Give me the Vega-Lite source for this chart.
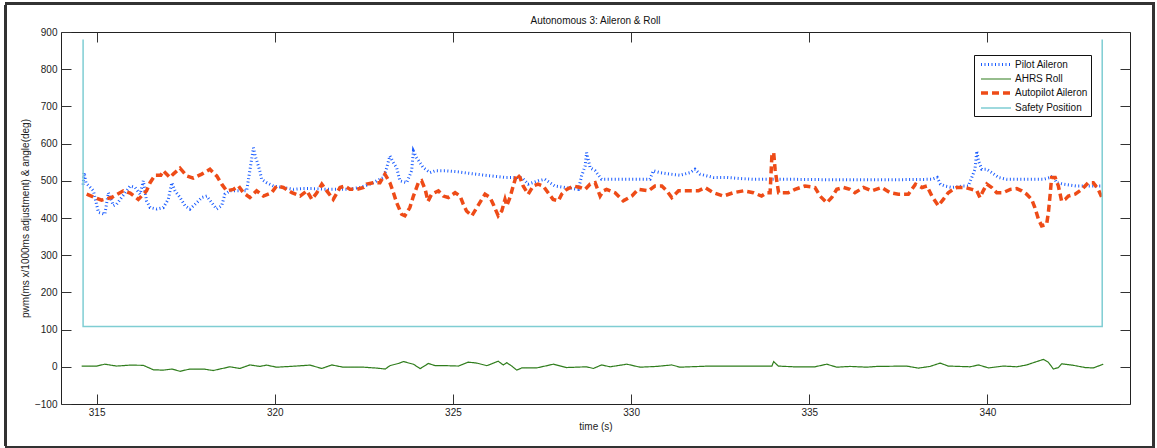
{
  "$schema": "https://vega.github.io/schema/vega-lite/v6.json",
  "width": 1069,
  "height": 372,
  "autosize": {"type": "none"},
  "padding": {"left": 61, "top": 32, "right": 27, "bottom": 44},
  "background": "white",
  "title": {"text": "Autonomous 3: Aileron & Roll", "fontSize": 10, "fontWeight": "normal", "baseline": "alphabetic", "offset": -31, "color": "#111"},
  "config": {
    "font": "Liberation Sans",
    "view": {"stroke": "#222", "strokeWidth": 1},
    "axis": {"grid": false, "domain": false, "tickColor": "#333", "labelColor": "#222", "titleColor": "#222", "labelFontSize": 10, "titleFontSize": 10, "titleFontWeight": "normal", "tickSize": -10},
    "legend": {"labelFontSize": 10, "labelColor": "#111"}
  },
  "data": {"values": [
    {"s":"Pilot Aileron","t":314.62,"v":490},{"s":"Pilot Aileron","t":314.65,"v":522},{"s":"Pilot Aileron","t":314.7,"v":495},{"s":"Pilot Aileron","t":314.91,"v":473},{"s":"Pilot Aileron","t":315.05,"v":415},{"s":"Pilot Aileron","t":315.23,"v":410},{"s":"Pilot Aileron","t":315.33,"v":468},{"s":"Pilot Aileron","t":315.47,"v":433},{"s":"Pilot Aileron","t":315.56,"v":437},{"s":"Pilot Aileron","t":315.7,"v":455},{"s":"Pilot Aileron","t":315.94,"v":486},{"s":"Pilot Aileron","t":316.08,"v":482},{"s":"Pilot Aileron","t":316.22,"v":464},{"s":"Pilot Aileron","t":316.31,"v":500},{"s":"Pilot Aileron","t":316.4,"v":446},{"s":"Pilot Aileron","t":316.5,"v":428},{"s":"Pilot Aileron","t":316.69,"v":424},{"s":"Pilot Aileron","t":316.87,"v":428},{"s":"Pilot Aileron","t":317.01,"v":450},{"s":"Pilot Aileron","t":317.11,"v":495},{"s":"Pilot Aileron","t":317.2,"v":473},{"s":"Pilot Aileron","t":317.34,"v":455},{"s":"Pilot Aileron","t":317.48,"v":433},{"s":"Pilot Aileron","t":317.62,"v":424},{"s":"Pilot Aileron","t":317.81,"v":441},{"s":"Pilot Aileron","t":317.95,"v":455},{"s":"Pilot Aileron","t":318.09,"v":459},{"s":"Pilot Aileron","t":318.23,"v":441},{"s":"Pilot Aileron","t":318.37,"v":424},{"s":"Pilot Aileron","t":318.51,"v":433},{"s":"Pilot Aileron","t":318.6,"v":464},{"s":"Pilot Aileron","t":318.74,"v":473},{"s":"Pilot Aileron","t":318.98,"v":473},{"s":"Pilot Aileron","t":319.21,"v":473},{"s":"Pilot Aileron","t":319.35,"v":558},{"s":"Pilot Aileron","t":319.4,"v":589},{"s":"Pilot Aileron","t":319.45,"v":567},{"s":"Pilot Aileron","t":319.54,"v":540},{"s":"Pilot Aileron","t":319.59,"v":522},{"s":"Pilot Aileron","t":319.63,"v":504},{"s":"Pilot Aileron","t":319.77,"v":495},{"s":"Pilot Aileron","t":319.96,"v":486},{"s":"Pilot Aileron","t":320.24,"v":482},{"s":"Pilot Aileron","t":320.52,"v":477},{"s":"Pilot Aileron","t":320.8,"v":479},{"s":"Pilot Aileron","t":321.08,"v":479},{"s":"Pilot Aileron","t":321.46,"v":477},{"s":"Pilot Aileron","t":321.74,"v":477},{"s":"Pilot Aileron","t":322.02,"v":477},{"s":"Pilot Aileron","t":322.39,"v":482},{"s":"Pilot Aileron","t":322.67,"v":491},{"s":"Pilot Aileron","t":322.86,"v":500},{"s":"Pilot Aileron","t":323.05,"v":509},{"s":"Pilot Aileron","t":323.14,"v":535},{"s":"Pilot Aileron","t":323.23,"v":567},{"s":"Pilot Aileron","t":323.33,"v":549},{"s":"Pilot Aileron","t":323.42,"v":535},{"s":"Pilot Aileron","t":323.51,"v":500},{"s":"Pilot Aileron","t":323.7,"v":495},{"s":"Pilot Aileron","t":323.84,"v":527},{"s":"Pilot Aileron","t":323.89,"v":580},{"s":"Pilot Aileron","t":323.98,"v":562},{"s":"Pilot Aileron","t":324.17,"v":535},{"s":"Pilot Aileron","t":324.36,"v":522},{"s":"Pilot Aileron","t":324.5,"v":527},{"s":"Pilot Aileron","t":324.78,"v":527},{"s":"Pilot Aileron","t":325.15,"v":524},{"s":"Pilot Aileron","t":325.62,"v":518},{"s":"Pilot Aileron","t":326.09,"v":513},{"s":"Pilot Aileron","t":326.46,"v":509},{"s":"Pilot Aileron","t":326.93,"v":509},{"s":"Pilot Aileron","t":327.11,"v":491},{"s":"Pilot Aileron","t":327.39,"v":500},{"s":"Pilot Aileron","t":327.58,"v":504},{"s":"Pilot Aileron","t":327.86,"v":486},{"s":"Pilot Aileron","t":328.15,"v":482},{"s":"Pilot Aileron","t":328.52,"v":477},{"s":"Pilot Aileron","t":328.61,"v":513},{"s":"Pilot Aileron","t":328.71,"v":540},{"s":"Pilot Aileron","t":328.75,"v":576},{"s":"Pilot Aileron","t":328.85,"v":535},{"s":"Pilot Aileron","t":328.99,"v":527},{"s":"Pilot Aileron","t":329.17,"v":504},{"s":"Pilot Aileron","t":329.6,"v":504},{"s":"Pilot Aileron","t":330.06,"v":504},{"s":"Pilot Aileron","t":330.53,"v":504},{"s":"Pilot Aileron","t":330.62,"v":527},{"s":"Pilot Aileron","t":330.81,"v":522},{"s":"Pilot Aileron","t":331.09,"v":518},{"s":"Pilot Aileron","t":331.37,"v":515},{"s":"Pilot Aileron","t":331.65,"v":522},{"s":"Pilot Aileron","t":331.79,"v":531},{"s":"Pilot Aileron","t":331.93,"v":518},{"s":"Pilot Aileron","t":332.31,"v":509},{"s":"Pilot Aileron","t":332.68,"v":509},{"s":"Pilot Aileron","t":333.06,"v":506},{"s":"Pilot Aileron","t":333.43,"v":504},{"s":"Pilot Aileron","t":333.76,"v":504},{"s":"Pilot Aileron","t":334.5,"v":504},{"s":"Pilot Aileron","t":335.5,"v":503},{"s":"Pilot Aileron","t":336.5,"v":503},{"s":"Pilot Aileron","t":337.5,"v":503},{"s":"Pilot Aileron","t":338.44,"v":504},{"s":"Pilot Aileron","t":338.59,"v":509},{"s":"Pilot Aileron","t":338.68,"v":491},{"s":"Pilot Aileron","t":338.81,"v":486},{"s":"Pilot Aileron","t":339.0,"v":482},{"s":"Pilot Aileron","t":339.32,"v":486},{"s":"Pilot Aileron","t":339.46,"v":486},{"s":"Pilot Aileron","t":339.56,"v":509},{"s":"Pilot Aileron","t":339.65,"v":531},{"s":"Pilot Aileron","t":339.7,"v":580},{"s":"Pilot Aileron","t":339.75,"v":553},{"s":"Pilot Aileron","t":339.84,"v":531},{"s":"Pilot Aileron","t":339.98,"v":531},{"s":"Pilot Aileron","t":340.12,"v":522},{"s":"Pilot Aileron","t":340.31,"v":509},{"s":"Pilot Aileron","t":340.54,"v":504},{"s":"Pilot Aileron","t":340.82,"v":504},{"s":"Pilot Aileron","t":341.2,"v":504},{"s":"Pilot Aileron","t":341.57,"v":504},{"s":"Pilot Aileron","t":341.76,"v":509},{"s":"Pilot Aileron","t":341.85,"v":513},{"s":"Pilot Aileron","t":341.94,"v":495},{"s":"Pilot Aileron","t":342.13,"v":491},{"s":"Pilot Aileron","t":342.5,"v":486},{"s":"Pilot Aileron","t":342.88,"v":486},{"s":"Pilot Aileron","t":343.21,"v":486},
    {"s":"AHRS Roll","t":314.58,"v":2},{"s":"AHRS Roll","t":315.0,"v":2},{"s":"AHRS Roll","t":315.23,"v":7},{"s":"AHRS Roll","t":315.56,"v":2},{"s":"AHRS Roll","t":315.94,"v":4.5},{"s":"AHRS Roll","t":316.31,"v":4},{"s":"AHRS Roll","t":316.59,"v":-8},{"s":"AHRS Roll","t":316.87,"v":-9},{"s":"AHRS Roll","t":317.11,"v":-6},{"s":"AHRS Roll","t":317.34,"v":-12},{"s":"AHRS Roll","t":317.62,"v":-6},{"s":"AHRS Roll","t":318.0,"v":-6},{"s":"AHRS Roll","t":318.27,"v":-10},{"s":"AHRS Roll","t":318.46,"v":-6},{"s":"AHRS Roll","t":318.74,"v":0},{"s":"AHRS Roll","t":319.02,"v":-4.5},{"s":"AHRS Roll","t":319.3,"v":5},{"s":"AHRS Roll","t":319.58,"v":1},{"s":"AHRS Roll","t":319.77,"v":4.5},{"s":"AHRS Roll","t":320.05,"v":-1},{"s":"AHRS Roll","t":320.43,"v":1},{"s":"AHRS Roll","t":320.99,"v":4.5},{"s":"AHRS Roll","t":321.32,"v":-4.5},{"s":"AHRS Roll","t":321.6,"v":5},{"s":"AHRS Roll","t":321.92,"v":-1},{"s":"AHRS Roll","t":322.49,"v":-1},{"s":"AHRS Roll","t":322.86,"v":-3.5},{"s":"AHRS Roll","t":323.1,"v":-6},{"s":"AHRS Roll","t":323.23,"v":3},{"s":"AHRS Roll","t":323.47,"v":9},{"s":"AHRS Roll","t":323.61,"v":14},{"s":"AHRS Roll","t":323.89,"v":7},{"s":"AHRS Roll","t":324.08,"v":-5},{"s":"AHRS Roll","t":324.31,"v":9},{"s":"AHRS Roll","t":324.5,"v":3},{"s":"AHRS Roll","t":324.83,"v":3},{"s":"AHRS Roll","t":325.15,"v":2},{"s":"AHRS Roll","t":325.43,"v":12.5},{"s":"AHRS Roll","t":325.67,"v":10},{"s":"AHRS Roll","t":325.95,"v":3},{"s":"AHRS Roll","t":326.27,"v":15},{"s":"AHRS Roll","t":326.41,"v":5},{"s":"AHRS Roll","t":326.51,"v":11},{"s":"AHRS Roll","t":326.65,"v":2},{"s":"AHRS Roll","t":326.79,"v":-9},{"s":"AHRS Roll","t":326.93,"v":-3},{"s":"AHRS Roll","t":327.35,"v":-3},{"s":"AHRS Roll","t":327.82,"v":7},{"s":"AHRS Roll","t":328.19,"v":-2},{"s":"AHRS Roll","t":328.75,"v":0},{"s":"AHRS Roll","t":328.94,"v":-4.5},{"s":"AHRS Roll","t":329.17,"v":5},{"s":"AHRS Roll","t":329.41,"v":0},{"s":"AHRS Roll","t":329.88,"v":7},{"s":"AHRS Roll","t":330.25,"v":-1},{"s":"AHRS Roll","t":330.72,"v":1},{"s":"AHRS Roll","t":331.14,"v":5},{"s":"AHRS Roll","t":331.37,"v":-1},{"s":"AHRS Roll","t":332.21,"v":2},{"s":"AHRS Roll","t":333.62,"v":2},{"s":"AHRS Roll","t":333.95,"v":2},{"s":"AHRS Roll","t":334.0,"v":14},{"s":"AHRS Roll","t":334.13,"v":2},{"s":"AHRS Roll","t":334.55,"v":0},{"s":"AHRS Roll","t":335.16,"v":0},{"s":"AHRS Roll","t":335.49,"v":7},{"s":"AHRS Roll","t":335.77,"v":-1},{"s":"AHRS Roll","t":336.14,"v":1},{"s":"AHRS Roll","t":336.61,"v":-1},{"s":"AHRS Roll","t":336.89,"v":1},{"s":"AHRS Roll","t":337.73,"v":2},{"s":"AHRS Roll","t":338.06,"v":-3.5},{"s":"AHRS Roll","t":338.39,"v":1},{"s":"AHRS Roll","t":338.67,"v":10},{"s":"AHRS Roll","t":338.9,"v":2},{"s":"AHRS Roll","t":339.51,"v":0},{"s":"AHRS Roll","t":339.75,"v":5},{"s":"AHRS Roll","t":340.03,"v":-3},{"s":"AHRS Roll","t":340.45,"v":2},{"s":"AHRS Roll","t":340.82,"v":0},{"s":"AHRS Roll","t":341.1,"v":5},{"s":"AHRS Roll","t":341.57,"v":20},{"s":"AHRS Roll","t":341.71,"v":12},{"s":"AHRS Roll","t":341.85,"v":-6},{"s":"AHRS Roll","t":341.99,"v":-2},{"s":"AHRS Roll","t":342.08,"v":8},{"s":"AHRS Roll","t":342.41,"v":4},{"s":"AHRS Roll","t":342.74,"v":-2},{"s":"AHRS Roll","t":342.97,"v":-3},{"s":"AHRS Roll","t":343.25,"v":7},
    {"s":"Autopilot Aileron","t":314.72,"v":464},{"s":"Autopilot Aileron","t":315.14,"v":448},{"s":"Autopilot Aileron","t":315.42,"v":455},{"s":"Autopilot Aileron","t":315.75,"v":473},{"s":"Autopilot Aileron","t":315.94,"v":467},{"s":"Autopilot Aileron","t":316.17,"v":450},{"s":"Autopilot Aileron","t":316.4,"v":473},{"s":"Autopilot Aileron","t":316.5,"v":495},{"s":"Autopilot Aileron","t":316.64,"v":515},{"s":"Autopilot Aileron","t":316.8,"v":515},{"s":"Autopilot Aileron","t":316.87,"v":527},{"s":"Autopilot Aileron","t":317.06,"v":509},{"s":"Autopilot Aileron","t":317.15,"v":518},{"s":"Autopilot Aileron","t":317.34,"v":534},{"s":"Autopilot Aileron","t":317.53,"v":513},{"s":"Autopilot Aileron","t":317.71,"v":507},{"s":"Autopilot Aileron","t":317.95,"v":518},{"s":"Autopilot Aileron","t":318.18,"v":531},{"s":"Autopilot Aileron","t":318.37,"v":513},{"s":"Autopilot Aileron","t":318.51,"v":491},{"s":"Autopilot Aileron","t":318.65,"v":473},{"s":"Autopilot Aileron","t":318.84,"v":477},{"s":"Autopilot Aileron","t":318.98,"v":486},{"s":"Autopilot Aileron","t":319.12,"v":468},{"s":"Autopilot Aileron","t":319.3,"v":455},{"s":"Autopilot Aileron","t":319.49,"v":473},{"s":"Autopilot Aileron","t":319.68,"v":459},{"s":"Autopilot Aileron","t":319.91,"v":468},{"s":"Autopilot Aileron","t":320.05,"v":486},{"s":"Autopilot Aileron","t":320.24,"v":482},{"s":"Autopilot Aileron","t":320.48,"v":468},{"s":"Autopilot Aileron","t":320.71,"v":459},{"s":"Autopilot Aileron","t":320.9,"v":473},{"s":"Autopilot Aileron","t":321.04,"v":450},{"s":"Autopilot Aileron","t":321.18,"v":468},{"s":"Autopilot Aileron","t":321.32,"v":491},{"s":"Autopilot Aileron","t":321.46,"v":473},{"s":"Autopilot Aileron","t":321.64,"v":450},{"s":"Autopilot Aileron","t":321.83,"v":482},{"s":"Autopilot Aileron","t":321.97,"v":486},{"s":"Autopilot Aileron","t":322.11,"v":477},{"s":"Autopilot Aileron","t":322.3,"v":477},{"s":"Autopilot Aileron","t":322.49,"v":482},{"s":"Autopilot Aileron","t":322.58,"v":491},{"s":"Autopilot Aileron","t":322.77,"v":495},{"s":"Autopilot Aileron","t":322.95,"v":495},{"s":"Autopilot Aileron","t":323.09,"v":518},{"s":"Autopilot Aileron","t":323.23,"v":495},{"s":"Autopilot Aileron","t":323.33,"v":468},{"s":"Autopilot Aileron","t":323.42,"v":441},{"s":"Autopilot Aileron","t":323.56,"v":410},{"s":"Autopilot Aileron","t":323.65,"v":406},{"s":"Autopilot Aileron","t":323.79,"v":428},{"s":"Autopilot Aileron","t":323.89,"v":459},{"s":"Autopilot Aileron","t":324.03,"v":495},{"s":"Autopilot Aileron","t":324.12,"v":500},{"s":"Autopilot Aileron","t":324.22,"v":477},{"s":"Autopilot Aileron","t":324.3,"v":445},{"s":"Autopilot Aileron","t":324.4,"v":464},{"s":"Autopilot Aileron","t":324.59,"v":473},{"s":"Autopilot Aileron","t":324.73,"v":459},{"s":"Autopilot Aileron","t":324.87,"v":455},{"s":"Autopilot Aileron","t":325.06,"v":468},{"s":"Autopilot Aileron","t":325.2,"v":459},{"s":"Autopilot Aileron","t":325.29,"v":437},{"s":"Autopilot Aileron","t":325.38,"v":419},{"s":"Autopilot Aileron","t":325.53,"v":406},{"s":"Autopilot Aileron","t":325.67,"v":428},{"s":"Autopilot Aileron","t":325.81,"v":450},{"s":"Autopilot Aileron","t":325.9,"v":464},{"s":"Autopilot Aileron","t":326.04,"v":455},{"s":"Autopilot Aileron","t":326.13,"v":437},{"s":"Autopilot Aileron","t":326.27,"v":406},{"s":"Autopilot Aileron","t":326.37,"v":419},{"s":"Autopilot Aileron","t":326.46,"v":450},{"s":"Autopilot Aileron","t":326.51,"v":433},{"s":"Autopilot Aileron","t":326.6,"v":455},{"s":"Autopilot Aileron","t":326.69,"v":486},{"s":"Autopilot Aileron","t":326.79,"v":518},{"s":"Autopilot Aileron","t":326.88,"v":509},{"s":"Autopilot Aileron","t":326.97,"v":486},{"s":"Autopilot Aileron","t":327.11,"v":464},{"s":"Autopilot Aileron","t":327.25,"v":486},{"s":"Autopilot Aileron","t":327.39,"v":491},{"s":"Autopilot Aileron","t":327.53,"v":486},{"s":"Autopilot Aileron","t":327.67,"v":468},{"s":"Autopilot Aileron","t":327.81,"v":450},{"s":"Autopilot Aileron","t":327.96,"v":446},{"s":"Autopilot Aileron","t":328.05,"v":464},{"s":"Autopilot Aileron","t":328.19,"v":477},{"s":"Autopilot Aileron","t":328.38,"v":486},{"s":"Autopilot Aileron","t":328.57,"v":482},{"s":"Autopilot Aileron","t":328.71,"v":477},{"s":"Autopilot Aileron","t":328.85,"v":491},{"s":"Autopilot Aileron","t":328.99,"v":495},{"s":"Autopilot Aileron","t":329.13,"v":459},{"s":"Autopilot Aileron","t":329.22,"v":473},{"s":"Autopilot Aileron","t":329.31,"v":477},{"s":"Autopilot Aileron","t":329.55,"v":468},{"s":"Autopilot Aileron","t":329.78,"v":446},{"s":"Autopilot Aileron","t":330.02,"v":459},{"s":"Autopilot Aileron","t":330.2,"v":477},{"s":"Autopilot Aileron","t":330.48,"v":473},{"s":"Autopilot Aileron","t":330.67,"v":486},{"s":"Autopilot Aileron","t":330.86,"v":486},{"s":"Autopilot Aileron","t":331.0,"v":473},{"s":"Autopilot Aileron","t":331.14,"v":455},{"s":"Autopilot Aileron","t":331.33,"v":473},{"s":"Autopilot Aileron","t":331.61,"v":473},{"s":"Autopilot Aileron","t":331.89,"v":473},{"s":"Autopilot Aileron","t":332.07,"v":482},{"s":"Autopilot Aileron","t":332.31,"v":468},{"s":"Autopilot Aileron","t":332.59,"v":459},{"s":"Autopilot Aileron","t":332.87,"v":468},{"s":"Autopilot Aileron","t":333.15,"v":473},{"s":"Autopilot Aileron","t":333.43,"v":468},{"s":"Autopilot Aileron","t":333.66,"v":459},{"s":"Autopilot Aileron","t":333.8,"v":468},{"s":"Autopilot Aileron","t":333.9,"v":468},{"s":"Autopilot Aileron","t":333.95,"v":567},{"s":"Autopilot Aileron","t":334.0,"v":576},{"s":"Autopilot Aileron","t":334.04,"v":531},{"s":"Autopilot Aileron","t":334.08,"v":504},{"s":"Autopilot Aileron","t":334.14,"v":468},{"s":"Autopilot Aileron","t":334.41,"v":468},{"s":"Autopilot Aileron","t":334.6,"v":477},{"s":"Autopilot Aileron","t":334.88,"v":486},{"s":"Autopilot Aileron","t":335.16,"v":482},{"s":"Autopilot Aileron","t":335.3,"v":459},{"s":"Autopilot Aileron","t":335.49,"v":441},{"s":"Autopilot Aileron","t":335.63,"v":455},{"s":"Autopilot Aileron","t":335.77,"v":477},{"s":"Autopilot Aileron","t":335.96,"v":482},{"s":"Autopilot Aileron","t":336.14,"v":477},{"s":"Autopilot Aileron","t":336.28,"v":468},{"s":"Autopilot Aileron","t":336.52,"v":482},{"s":"Autopilot Aileron","t":336.75,"v":473},{"s":"Autopilot Aileron","t":337.03,"v":482},{"s":"Autopilot Aileron","t":337.27,"v":468},{"s":"Autopilot Aileron","t":337.5,"v":464},{"s":"Autopilot Aileron","t":337.78,"v":464},{"s":"Autopilot Aileron","t":337.98,"v":491},{"s":"Autopilot Aileron","t":338.16,"v":482},{"s":"Autopilot Aileron","t":338.3,"v":486},{"s":"Autopilot Aileron","t":338.44,"v":459},{"s":"Autopilot Aileron","t":338.62,"v":433},{"s":"Autopilot Aileron","t":338.76,"v":450},{"s":"Autopilot Aileron","t":338.9,"v":468},{"s":"Autopilot Aileron","t":339.04,"v":477},{"s":"Autopilot Aileron","t":339.14,"v":482},{"s":"Autopilot Aileron","t":339.38,"v":482},{"s":"Autopilot Aileron","t":339.56,"v":477},{"s":"Autopilot Aileron","t":339.7,"v":473},{"s":"Autopilot Aileron","t":339.79,"v":455},{"s":"Autopilot Aileron","t":339.88,"v":473},{"s":"Autopilot Aileron","t":339.98,"v":491},{"s":"Autopilot Aileron","t":340.12,"v":482},{"s":"Autopilot Aileron","t":340.26,"v":468},{"s":"Autopilot Aileron","t":340.44,"v":468},{"s":"Autopilot Aileron","t":340.64,"v":477},{"s":"Autopilot Aileron","t":340.82,"v":479},{"s":"Autopilot Aileron","t":340.96,"v":473},{"s":"Autopilot Aileron","t":341.1,"v":464},{"s":"Autopilot Aileron","t":341.24,"v":450},{"s":"Autopilot Aileron","t":341.33,"v":428},{"s":"Autopilot Aileron","t":341.43,"v":397},{"s":"Autopilot Aileron","t":341.52,"v":379},{"s":"Autopilot Aileron","t":341.66,"v":383},{"s":"Autopilot Aileron","t":341.71,"v":415},{"s":"Autopilot Aileron","t":341.76,"v":464},{"s":"Autopilot Aileron","t":341.8,"v":509},{"s":"Autopilot Aileron","t":341.9,"v":509},{"s":"Autopilot Aileron","t":341.99,"v":486},{"s":"Autopilot Aileron","t":342.04,"v":464},{"s":"Autopilot Aileron","t":342.08,"v":446},{"s":"Autopilot Aileron","t":342.18,"v":450},{"s":"Autopilot Aileron","t":342.27,"v":459},{"s":"Autopilot Aileron","t":342.46,"v":464},{"s":"Autopilot Aileron","t":342.65,"v":477},{"s":"Autopilot Aileron","t":342.83,"v":495},{"s":"Autopilot Aileron","t":342.97,"v":495},{"s":"Autopilot Aileron","t":343.11,"v":477},{"s":"Autopilot Aileron","t":343.21,"v":455},
    {"s":"Safety Position","t":314.62,"v":880,"k":1},{"s":"Safety Position","t":314.62,"v":108,"k":2},{"s":"Safety Position","t":343.22,"v":108,"k":3},{"s":"Safety Position","t":343.22,"v":880,"k":4}
  ]},
  "layer": [
    {
      "mark": {"type": "rect", "fill": null, "fillOpacity": 0, "stroke": "#333", "strokeWidth": 2, "clip": false},
      "encoding": {
        "x": {"datum": 312.456, "type": "quantitative", "axis": null},
        "x2": {"datum": 344.65},
        "y": {"datum": 976.5, "type": "quantitative", "axis": null},
        "y2": {"datum": -216.5}
      }
    },
    {
      "encoding": {
        "x": {"field": "t", "type": "quantitative", "scale": {"domain": [314, 344], "nice": false, "zero": false},
              "axis": {"orient": "bottom", "values": [315, 320, 325, 330, 335, 340], "title": "time (s)", "labelPadding": 13, "titlePadding": 4}},
        "y": {"field": "v", "type": "quantitative", "scale": {"domain": [-100, 900], "nice": false, "zero": false},
              "axis": {"orient": "left", "values": [-100, 0, 100, 200, 300, 400, 500, 600, 700, 800, 900], "title": "pwm(ms x/1000ms adjustment) & angle(deg)", "labelPadding": 14, "titlePadding": 4}},
        "color": {"field": "s", "type": "nominal", "title": null,
                  "scale": {"domain": ["Pilot Aileron", "AHRS Roll", "Autopilot Aileron", "Safety Position"], "range": ["#1a5cff", "#2f7d1c", "#ee4b17", "#7fcdd3"]},
                  "legend": {"orient": "none", "legendX": 913, "legendY": 23, "symbolType": "M-0.6,0H5.4", "symbolSize": 100, "strokeColor": "#111", "fillColor": "white", "padding": 3, "labelOffset": 24, "rowPadding": 2, "labelFontSize": 10}},
        "strokeDash": {"field": "s", "type": "nominal", "title": null,
                  "scale": {"domain": ["Pilot Aileron", "AHRS Roll", "Autopilot Aileron", "Safety Position"], "range": [[1, 2.5], [1, 0], [7, 4], [1, 0]]}},
        "strokeWidth": {"field": "s", "type": "nominal", "title": null,
                  "scale": {"type": "ordinal", "domain": ["Pilot Aileron", "AHRS Roll", "Autopilot Aileron", "Safety Position"], "range": [3, 1.2, 3.5, 1.5]}}
      },
      "layer": [
        {"transform": [{"filter": "datum.s === 'Pilot Aileron'"}], "mark": {"type": "line"}},
        {"transform": [{"filter": "datum.s === 'AHRS Roll'"}], "mark": {"type": "line"}},
        {"transform": [{"filter": "datum.s === 'Autopilot Aileron'"}], "mark": {"type": "line"}},
        {"transform": [{"filter": "datum.s === 'Safety Position'"}], "mark": {"type": "line"}, "encoding": {"order": {"field": "k", "type": "quantitative"}}}
      ]
    },
    {
      "mark": {"type": "point", "opacity": 0},
      "encoding": {
        "x": {"field": "t", "type": "quantitative", "axis": {"orient": "top", "values": [315, 320, 325, 330, 335, 340], "labels": false, "title": null}},
        "y": {"field": "v", "type": "quantitative", "axis": {"orient": "right", "values": [-100, 0, 100, 200, 300, 400, 500, 600, 700, 800, 900], "labels": false, "title": null}}
      }
    }
  ],
  "resolve": {"axis": {"x": "independent", "y": "independent"}}
}
